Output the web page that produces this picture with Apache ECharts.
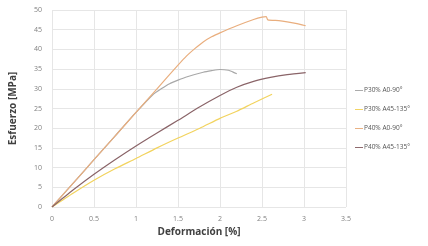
<!DOCTYPE html>
<html><head><meta charset="utf-8">
<script src="https://cdn.jsdelivr.net/npm/echarts@6/dist/echarts.min.js"></script>
<style>html,body{margin:0;padding:0;background:#fff}#c{width:428px;height:246px}</style>
</head><body><div id="c"></div>
<script>
const seriesNames = ['P30% A0-90°', 'P30% A45-135°', 'P40% A0-90°', 'P40% A45-135°'];
const colors = ['#a8a8a8', '#f2d35e', '#e9ae7e', '#8a6468'];
const p30a0 = [[0,0],[0.25,6],[0.5,12],[0.75,18],[1,24],[1.2,28.5],[1.3,30],[1.4,31.3],[1.5,32.2],[1.6,33],[1.8,34.2],[1.9,34.6],[2.0,34.9],[2.1,34.7],[2.15,34.3],[2.2,33.8]];
const p30a45 = [[0,0],[0.25,3.5],[0.5,6.8],[0.75,9.7],[1,12.3],[1.25,15],[1.5,17.5],[1.76,20],[2.0,22.5],[2.2,24.3],[2.4,26.4],[2.62,28.6]];
const p40a0 = [[0,0],[0.25,6],[0.5,12],[0.75,18],[1,24],[1.25,30],[1.5,36],[1.6,38.3],[1.7,40.2],[1.8,41.9],[1.9,43.2],[2.0,44.2],[2.2,46],[2.4,47.6],[2.5,48.2],[2.55,48.3],[2.57,47.5],[2.7,47.3],[2.8,47],[2.9,46.6],[3.02,46]];
const p40a45 = [[0,0],[0.25,4.3],[0.5,8.3],[0.75,12],[1,15.5],[1.25,18.8],[1.5,22],[1.75,25.3],[2.0,28.3],[2.2,30.4],[2.4,31.9],[2.6,32.9],[2.8,33.6],[3.02,34.1]];
const allData = [p30a0, p30a45, p40a0, p40a45];

const chart = echarts.init(document.getElementById('c'));
chart.setOption({
  animation: false,
  grid: {left: 52, right: 82, top: 10, bottom: 39},
  xAxis: {
    type: 'value', min: 0, max: 3.5, interval: 0.5,
    name: 'Deformación [%]', nameLocation: 'middle', nameGap: 20,
    nameTextStyle: {fontFamily: 'Open Sans', fontSize: 10, fontWeight: 'bold', color: '#404040'},
    axisLine: {show: false}, axisTick: {show: false},
    axisLabel: {fontFamily: 'Open Sans', fontSize: 7, color: '#808080', margin: 8},
    splitLine: {lineStyle: {color: '#e6e6e6', width: 1}}
  },
  yAxis: {
    type: 'value', min: 0, max: 50, interval: 5,
    name: 'Esfuerzo [MPa]', nameLocation: 'middle', nameGap: 34,
    nameTextStyle: {fontFamily: 'Open Sans', fontSize: 10, fontWeight: 'bold', color: '#404040'},
    axisLine: {show: false}, axisTick: {show: false},
    axisLabel: {fontFamily: 'Open Sans', fontSize: 7, color: '#808080', margin: 10},
    splitLine: {lineStyle: {color: '#e6e6e6', width: 1}}
  },
  legend: {
    orient: 'vertical', left: 350, top: 82, itemGap: 12, itemWidth: 8, itemHeight: 8,
    icon: 'path://M0,4.4 L10,4.4 L10,5.6 L0,5.6 Z',
    textStyle: {fontFamily: 'Open Sans', fontSize: 6.5, color: '#555', padding: [0,0,0,-4]},
    data: seriesNames
  },
  series: allData.map((d, i) => ({
    name: seriesNames[i], type: 'line', data: d, showSymbol: false, smooth: 0.2,
    lineStyle: {width: 1.2, color: colors[i]}, itemStyle: {color: colors[i]}
  }))
});
</script></body></html>
